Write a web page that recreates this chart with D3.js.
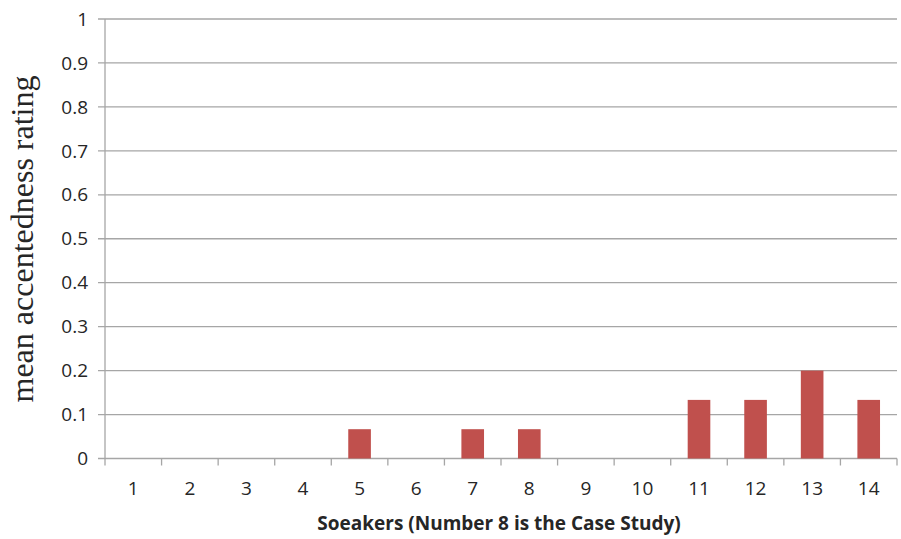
<!DOCTYPE html>
<html>
<head>
<meta charset="utf-8">
<script src="https://cdn.jsdelivr.net/npm/d3@7/dist/d3.min.js"></script>
<style>
  html, body { margin: 0; padding: 0; background: #fff; }
  svg { display: block; }
</style>
</head>
<body>
<svg id="chart" width="901" height="539"></svg>
<script>
// Speakers and their mean accentedness ratings
const speakers = ["1", "2", "3", "4", "5", "6", "7", "8", "9", "10", "11", "12", "13", "14"];
const ratings = [0, 0, 0, 0, 1/15, 0, 1/15, 1/15, 0, 0, 2/15, 2/15, 3/15, 2/15];
const yTicks = [0, 0.1, 0.2, 0.3, 0.4, 0.5, 0.6, 0.7, 0.8, 0.9, 1];
const yTickLabels = ["0", "0.1", "0.2", "0.3", "0.4", "0.5", "0.6", "0.7", "0.8", "0.9", "1"];
const xTitle = "Soeakers (Number 8 is the Case Study)";
const yTitle = "mean accentedness rating";

const svg = d3.select("#chart");
const plotLeft = 105, plotRight = 897, plotTop = 19, plotBottom = 458.5;

const x = d3.scaleBand().domain(speakers).range([plotLeft, plotRight]).paddingInner(0).paddingOuter(0);
const y = d3.scaleLinear().domain([0, 1]).range([plotBottom, plotTop]);

const gridColor = "#a6a6a6";
const textColor = "#262626";
const sansFont = "'Open Sans', 'Liberation Sans', sans-serif";

// horizontal gridlines
svg.append("g").selectAll("line").data(yTicks).join("line")
  .attr("x1", plotLeft - 7).attr("x2", plotRight)
  .attr("y1", d => y(d)).attr("y2", d => y(d))
  .attr("stroke", gridColor).attr("stroke-width", 1.3);

// y axis line
svg.append("line").attr("x1", plotLeft).attr("x2", plotLeft).attr("y1", plotTop).attr("y2", plotBottom)
  .attr("stroke", gridColor).attr("stroke-width", 1.3);

// category boundary ticks below the baseline
const bounds = speakers.map(s => x(s)).concat([plotRight]);
svg.append("g").selectAll("line").data(bounds).join("line")
  .attr("x1", d => d).attr("x2", d => d)
  .attr("y1", plotBottom).attr("y2", plotBottom + 7)
  .attr("stroke", gridColor).attr("stroke-width", 1.3);

// bars
const barW = x.bandwidth() * 0.4;
svg.append("g").selectAll("rect").data(speakers).join("rect")
  .attr("x", (d) => x(d) + (x.bandwidth() - barW) / 2)
  .attr("width", barW)
  .attr("y", (d, i) => y(ratings[i]))
  .attr("height", (d, i) => y(0) - y(ratings[i]))
  .attr("fill", "#c0504d");

// y tick labels
svg.append("g").selectAll("text").data(yTicks).join("text")
  .attr("x", 88).attr("y", d => y(d))
  .attr("dy", "0.35em")
  .attr("text-anchor", "end")
  .attr("font-family", sansFont).attr("font-size", 19)
  .attr("fill", textColor)
  .text((d, i) => yTickLabels[i]);

// x tick labels
svg.append("g").selectAll("text").data(speakers).join("text")
  .attr("x", d => x(d) + x.bandwidth() / 2).attr("y", 488)
  .attr("dy", "0.35em")
  .attr("text-anchor", "middle")
  .attr("font-family", sansFont).attr("font-size", 19)
  .attr("fill", textColor)
  .text(d => d);

// x axis title
svg.append("text")
  .attr("x", 499).attr("y", 523).attr("dy", "0.35em")
  .attr("text-anchor", "middle")
  .attr("font-family", sansFont).attr("font-weight", "bold").attr("font-size", 19)
  .attr("fill", textColor)
  .text(xTitle);

// y axis title
svg.append("text")
  .attr("transform", "translate(22,239) rotate(-90)")
  .attr("dy", "0.35em")
  .attr("text-anchor", "middle")
  .attr("font-family", "'Liberation Serif', 'DejaVu Serif', serif").attr("font-size", 32)
  .attr("fill", textColor)
  .text(yTitle);
</script>
</body>
</html>
